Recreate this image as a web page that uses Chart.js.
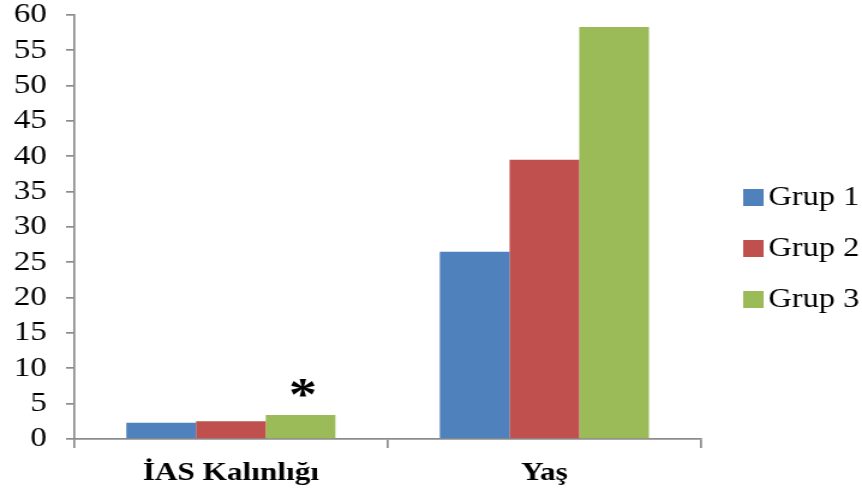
<!DOCTYPE html>
<html>
<head>
<meta charset="utf-8">
<script src="https://cdn.jsdelivr.net/npm/chart.js@4/dist/chart.umd.min.js"></script>
<style>
  html, body { margin: 0; padding: 0; background: #ffffff; overflow: hidden; }
  /* the figure is drawn narrower and widened to its 862px display width */
  canvas { display: block; transform: scaleX(1.2006); transform-origin: 0 0; }
</style>
</head>
<body>
<canvas id="chart" width="718" height="499"></canvas>
<script>
// Category labels and per-group values
const categories = ['İAS Kalınlığı', 'Yaş'];
const seriesNames = ['Grup 1', 'Grup 2', 'Grup 3'];
const grup1 = [2.3, 26.5];
const grup2 = [2.5, 39.5];
const grup3 = [3.4, 58.3];
// significance marks shown above Grup 3 bars
const grup3Marks = ['*', ''];
// y axis tick values
const yTickValues = [0, 5, 10, 15, 20, 25, 30, 35, 40, 45, 50, 55, 60];

const seriesColors = ['#4F81BD', '#C0504D', '#9BBB59'];
const axisGray = '#8c8c8c';
const serif = "'Liberation Serif', 'Times New Roman', serif";

// Draws the star markers above the bars of the third group
const markPlugin = {
  id: 'marks',
  afterDatasetsDraw(chart) {
    const meta = chart.getDatasetMeta(2);
    const ctx = chart.ctx;
    ctx.save();
    ctx.fillStyle = '#000';
    ctx.font = "bold 47px " + serif;
    ctx.textAlign = 'center';
    ctx.textBaseline = 'middle';
    meta.data.forEach((bar, i) => {
      const m = grup3Marks[i];
      if (!m) return;
      ctx.fillText(m, bar.x + 2, bar.y - 17);
    });
    ctx.restore();
  }
};

// Legend on the right: square swatch plus series name
const legendPlugin = {
  id: 'sideLegend',
  afterDraw(chart) {
    const ctx = chart.ctx;
    const area = chart.chartArea;
    const x0 = area.right + 35;
    const y0 = 197;
    const rowGap = 51;
    ctx.save();
    ctx.font = "27px " + serif;
    ctx.textBaseline = 'middle';
    ctx.textAlign = 'left';
    chart.data.datasets.forEach((ds, i) => {
      const cy = y0 + i * rowGap;
      ctx.fillStyle = ds.backgroundColor;
      ctx.fillRect(x0, cy - 8, 17, 17);
      ctx.fillStyle = '#000';
      ctx.fillText(ds.label, x0 + 21, cy + 1);
    });
    ctx.restore();
  }
};

new Chart(document.getElementById('chart'), {
  type: 'bar',
  data: {
    labels: categories,
    datasets: [
      { label: seriesNames[0], data: grup1, backgroundColor: seriesColors[0] },
      { label: seriesNames[1], data: grup2, backgroundColor: seriesColors[1] },
      { label: seriesNames[2], data: grup3, backgroundColor: seriesColors[2] }
    ]
  },
  options: {
    responsive: false,
    devicePixelRatio: 1,
    animation: false,
    layout: { padding: { top: 15, right: 134, left: 0, bottom: 0 } },
    datasets: {
      bar: { barPercentage: 1.0, categoryPercentage: 0.667, borderWidth: 0 }
    },
    plugins: {
      legend: { display: false },
      tooltip: { enabled: false }
    },
    scales: {
      x: {
        offset: true,
        grid: {
          offset: true,
          drawOnChartArea: false,
          drawTicks: true,
          tickLength: 9,
          color: axisGray,
          lineWidth: 1.7
        },
        border: { display: true, color: axisGray, width: 1.7 },
        ticks: {
          color: '#000',
          padding: 10,
          autoSkip: false,
          maxRotation: 0,
          font: { family: serif, size: 26, weight: 'bold' }
        },
        afterFit(scale) {
          scale.height = 60;
          scale.paddingLeft = 0;
          scale.paddingRight = 0;
        }
      },
      y: {
        min: 0,
        max: 60,
        afterBuildTicks(scale) {
          scale.ticks = yTickValues.map(v => ({ value: v }));
        },
        grid: {
          drawOnChartArea: false,
          drawTicks: true,
          tickLength: 6.7,
          color: axisGray,
          lineWidth: 1.7
        },
        border: { display: true, color: axisGray, width: 1.7 },
        ticks: {
          color: '#000',
          padding: 16,
          autoSkip: false,
          font: { family: serif, size: 27.5 }
        },
        afterFit(scale) {
          scale.width = 61.7;
          scale.paddingTop = 0;
          scale.paddingBottom = 0;
        }
      }
    }
  },
  plugins: [markPlugin, legendPlugin]
});
</script>
</body>
</html>
